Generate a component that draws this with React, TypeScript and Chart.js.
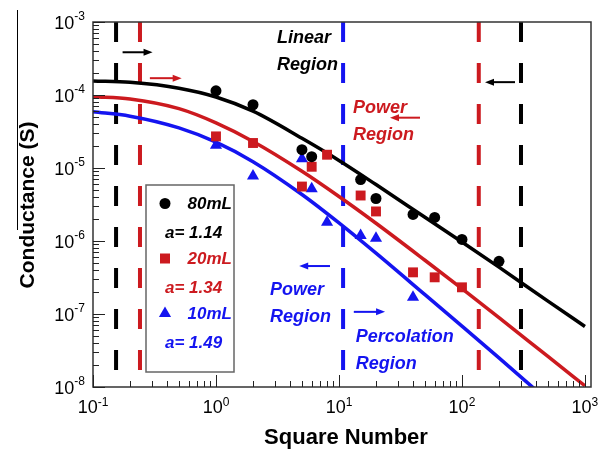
import React, { useEffect, useRef } from "react";
import { Chart, registerables } from "chart.js";
Chart.register(...registerables);

// ---- measured data ----
const x80 = [1, 2, 5, 6, 15, 20, 40, 60, 100, 200];
const y80 = [1.14e-4, 7.35e-5, 1.78e-5, 1.43e-5, 6.95e-6, 3.82e-6, 2.31e-6, 2.1e-6, 1.05e-6, 5.26e-7];
const x20 = [1, 2, 5, 6, 8, 15, 20, 40, 60, 100];
const y20 = [2.71e-5, 2.2e-5, 5.57e-6, 1.04e-5, 1.52e-5, 4.2e-6, 2.54e-6, 3.72e-7, 3.18e-7, 2.32e-7];
const x10 = [1, 2, 5, 6, 8, 15, 20, 40];
const y10 = [2.05e-5, 7.8e-6, 1.34e-5, 5.2e-6, 1.8e-6, 1.19e-6, 1.09e-6, 1.7e-7];

// fitted curves
const fitX = [0.1, 0.2, 0.5, 1, 2, 5, 10, 20, 50, 100, 200, 500, 1000];
const fit80 = [1.56e-4, 1.49e-4, 1.24e-4, 9.4e-5, 6.0e-5, 2.55e-5, 1.27e-5, 5.93e-6, 2.11e-6, 9.68e-7, 4.38e-7, 1.5e-7, 6.75e-8];
const fit20 = [9.44e-5, 8.81e-5, 6.5e-5, 4.15e-5, 2.31e-5, 9.02e-6, 4.07e-6, 1.75e-6, 5.45e-7, 2.22e-7, 8.91e-8, 2.62e-8, 1.04e-8];
const fit10 = [5.89e-5, 5.13e-5, 3.55e-5, 2.26e-5, 1.22e-5, 4.34e-6, 1.77e-6, 6.81e-7, 1.84e-7, 6.81e-8, 2.5e-8, 6.5e-9];

// region boundary lines (x positions)
const boundaryX = [0.154, 0.241, 10.8, 137, 302];
const boundaryColor = ["#000000", "#cc1a1f", "#1414f0", "#cc1a1f", "#000000"];

// region labels
const labelText = ["Linear", "Region", "Power", "Region", "Power", "Region", "Percolation", "Region"];
const labelX = [3.13, 3.13, 13.0, 13.0, 2.75, 2.75, 13.7, 13.7];
const labelY = [5.16e-4, 2.23e-4, 5.62e-5, 2.44e-5, 1.81e-7, 7.73e-8, 4.12e-8, 1.76e-8];
const labelColor = ["#000000", "#000000", "#cc1a1f", "#cc1a1f", "#1414f0", "#1414f0", "#1414f0", "#1414f0"];

// arrows
const arrowTail = [0.174, 0.29, 270, 45.6, 8.45, 13.2];
const arrowHead = [0.305, 0.526, 154, 26, 4.75, 23.7];
const arrowY = [3.85e-4, 1.7e-4, 1.5e-4, 4.89e-5, 4.54e-7, 1.07e-7];
const arrowColor = ["#000000", "#cc1a1f", "#000000", "#cc1a1f", "#1414f0", "#1414f0"];

// legend
const legendNames = ["80mL", "20mL", "10mL"];
const legendA = ["a= 1.14", "a= 1.34", "a= 1.49"];
const legendColor = ["#000000", "#cc1a1f", "#1414f0"];
const legendShape = ["circle", "rect", "triangle"];

const xDecades = [-1, 0, 1, 2, 3];
const yDecades = [-8, -7, -6, -5, -4, -3];

const FONT = '"Liberation Sans", Arial, Helvetica, sans-serif';
const RED = "#cc1a1f";
const BLUE = "#1414f0";

const pts = (xs: number[], ys: number[]) => ys.map((y, i) => ({ x: xs[i], y }));

const overlay = {
  id: "overlay",
  afterDatasetsDraw(chart: any) {
    const ctx = chart.ctx as CanvasRenderingContext2D;
    const xs = chart.scales.x;
    const ys = chart.scales.y;
    const { left, right, top, bottom } = chart.chartArea;
    ctx.save();

    // frame
    ctx.strokeStyle = "#333";
    ctx.lineWidth = 1.5;
    ctx.strokeRect(left, top, right - left, bottom - top);

    // ticks (inward)
    ctx.lineWidth = 1;
    ctx.strokeStyle = "#222";
    ctx.beginPath();
    for (let e = -1; e <= 2; e++) {
      for (let m = 1; m <= 10; m++) {
        const v = m * Math.pow(10, e);
        const px = Math.round(xs.getPixelForValue(v)) + 0.5;
        const len = m === 1 || m === 10 ? 12 : 6;
        ctx.moveTo(px, bottom);
        ctx.lineTo(px, bottom - len);
      }
    }
    for (let e = -8; e <= -4; e++) {
      for (let m = 1; m <= 10; m++) {
        const v = m * Math.pow(10, e);
        const py = Math.round(ys.getPixelForValue(v)) + 0.5;
        const len = m === 1 || m === 10 ? 12 : 6;
        ctx.moveTo(left, py);
        ctx.lineTo(left + len, py);
      }
    }
    ctx.stroke();

    // tick labels
    ctx.fillStyle = "#000";
    ctx.textBaseline = "alphabetic";
    ctx.textAlign = "left";
    const big = `18px ${FONT}`;
    const small = `12px ${FONT}`;
    for (const e of xDecades) {
      const px = xs.getPixelForValue(Math.pow(10, e));
      ctx.font = big;
      const w1 = ctx.measureText("10").width;
      ctx.font = small;
      const w2 = ctx.measureText(String(e)).width;
      const start = px - (w1 + w2) / 2;
      ctx.font = big;
      ctx.fillText("10", start, bottom + 26);
      ctx.font = small;
      ctx.fillText(String(e), start + w1, bottom + 19);
    }
    for (const e of yDecades) {
      const py = ys.getPixelForValue(Math.pow(10, e));
      ctx.font = big;
      const w1 = ctx.measureText("10").width;
      ctx.font = small;
      const w2 = ctx.measureText(String(e)).width;
      const start = left - 8 - (w1 + w2);
      ctx.font = big;
      ctx.fillText("10", start, py + 6.5);
      ctx.font = small;
      ctx.fillText(String(e), start + w1, py - 2);
    }

    // axis titles
    ctx.font = `bold 22px ${FONT}`;
    ctx.textAlign = "center";
    ctx.fillText("Square Number", (left + right) / 2 + 4, 444);
    ctx.save();
    ctx.translate(28, 205);
    ctx.rotate(-Math.PI / 2);
    ctx.font = `bold 21px ${FONT}`;
    ctx.textBaseline = "middle";
    ctx.fillText("Conductance (S)", 0, 0);
    ctx.restore();

    // thin artifact line at far left
    ctx.strokeStyle = "#000";
    ctx.lineWidth = 1;
    ctx.beginPath();
    ctx.moveTo(17.5, 10);
    ctx.lineTo(17.5, 230);
    ctx.stroke();

    // region labels
    ctx.font = `italic bold 18px ${FONT}`;
    ctx.textAlign = "left";
    ctx.textBaseline = "alphabetic";
    labelText.forEach((t, i) => {
      ctx.fillStyle = labelColor[i];
      ctx.fillText(t, xs.getPixelForValue(labelX[i]), ys.getPixelForValue(labelY[i]));
    });

    // arrows
    arrowTail.forEach((tx, i) => {
      const x0 = xs.getPixelForValue(tx);
      const x1 = xs.getPixelForValue(arrowHead[i]);
      const y = ys.getPixelForValue(arrowY[i]);
      const dir = x1 > x0 ? 1 : -1;
      ctx.strokeStyle = arrowColor[i];
      ctx.fillStyle = arrowColor[i];
      ctx.lineWidth = 2;
      ctx.beginPath();
      ctx.moveTo(x0, y);
      ctx.lineTo(x1 - dir * 6, y);
      ctx.stroke();
      ctx.beginPath();
      ctx.moveTo(x1, y);
      ctx.lineTo(x1 - dir * 9, y - 3.5);
      ctx.lineTo(x1 - dir * 9, y + 3.5);
      ctx.closePath();
      ctx.fill();
    });

    // legend box
    const bx = 146, by = 185, bw = 88, bh = 187;
    ctx.fillStyle = "#fff";
    ctx.fillRect(bx, by, bw, bh);
    ctx.strokeStyle = "#666";
    ctx.lineWidth = 1.5;
    ctx.strokeRect(bx, by, bw, bh);
    ctx.font = `italic bold 17px ${FONT}`;
    legendNames.forEach((name, i) => {
      const cy = by + 18.5 + i * 55;
      const c = legendColor[i];
      ctx.fillStyle = c;
      const mx = bx + 19;
      ctx.beginPath();
      if (legendShape[i] === "circle") {
        ctx.arc(mx, cy, 5.5, 0, Math.PI * 2);
      } else if (legendShape[i] === "rect") {
        ctx.rect(mx - 5, cy - 5, 10, 10);
      } else {
        ctx.moveTo(mx, cy - 7);
        ctx.lineTo(mx + 6.1, cy + 3.5);
        ctx.lineTo(mx - 6.1, cy + 3.5);
        ctx.closePath();
      }
      ctx.fill();
      ctx.textAlign = "right";
      ctx.fillText(name, bx + 86, cy + 5);
      ctx.textAlign = "left";
      ctx.fillText(legendA[i], bx + 19, cy + 34);
    });

    ctx.restore();
  },
};

export default function App() {
  const ref = useRef<HTMLCanvasElement>(null);
  useEffect(() => {
    const datasets: any[] = [
      {
        label: "80mL",
        data: pts(x80, y80),
        showLine: false,
        pointStyle: "circle",
        pointRadius: 5.5,
        pointBackgroundColor: "#000",
        pointBorderWidth: 0,
        order: 0,
      },
      {
        label: "20mL",
        data: pts(x20, y20),
        showLine: false,
        pointStyle: "rect",
        pointRadius: 7,
        pointBackgroundColor: RED,
        pointBorderWidth: 0,
        order: 0,
      },
      {
        label: "10mL",
        data: pts(x10, y10),
        showLine: false,
        pointStyle: "triangle",
        pointRadius: 7,
        pointBackgroundColor: BLUE,
        pointBorderWidth: 0,
        order: 0,
      },
      ...[fit80, fit20, fit10].map((f, i) => ({
        label: "fit" + i,
        data: pts(fitX, f),
        showLine: true,
        borderColor: ["#000", RED, BLUE][i],
        borderWidth: 3.5,
        pointRadius: 0,
        cubicInterpolationMode: "monotone",
        order: 1,
      })),
      ...boundaryX.map((bx, i) => ({
        label: "b" + i,
        data: [
          { x: bx, y: 1e-3 },
          { x: bx, y: 1e-8 },
        ],
        showLine: true,
        borderColor: boundaryColor[i],
        borderWidth: 4,
        borderDash: [20, 21],
        pointRadius: 0,
        order: 2,
      })),
    ];
    const chart = new Chart(ref.current!, {
      type: "scatter",
      data: { datasets },
      options: {
        animation: false,
        responsive: false,
        devicePixelRatio: 1,
        layout: { padding: { left: 93, top: 22, right: 15, bottom: 63 } },
        plugins: { legend: { display: false }, tooltip: { enabled: false } },
        scales: {
          x: { type: "logarithmic", min: 0.1, max: 1120, display: false },
          y: { type: "logarithmic", min: 1e-8, max: 1e-3, display: false },
        },
      },
      plugins: [overlay],
    } as any);
    return () => chart.destroy();
  }, []);
  return (
    <div style={{ position: "fixed", left: 0, top: 0, width: 606, height: 450, background: "#fff" }}>
      <canvas ref={ref} width={606} height={450} style={{ width: 606, height: 450, display: "block" }} />
    </div>
  );
}
